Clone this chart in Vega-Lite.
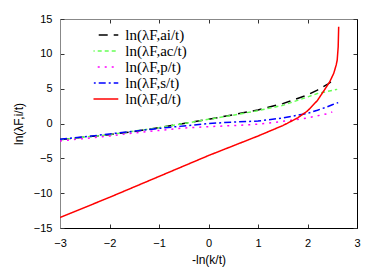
{
  "$schema": "https://vega.github.io/schema/vega-lite/v6.json",
  "width": 297,
  "height": 209,
  "autosize": {"type": "none"},
  "padding": {"left": 60, "top": 19, "right": 25, "bottom": 40},
  "background": "white",
  "config": {
    "view": {"stroke": null},
    "axis": {"labelFont": "Liberation Sans", "titleFont": "Liberation Sans", "labelFontSize": 11, "titleFontSize": 12, "titleFontWeight": "normal", "labelColor": "black", "titleColor": "black", "grid": false, "tickColor": "#333", "domainColor": "black", "labelFlush": false}
  },
  "data": {"values": [
    {"s":"ai","x":-3,"y":-2.3},{"s":"ai","x":-2.5,"y":-1.95},{"s":"ai","x":-2,"y":-1.6},{"s":"ai","x":-1.5,"y":-1.15},{"s":"ai","x":-1,"y":-0.6},{"s":"ai","x":-0.5,"y":0.0},{"s":"ai","x":0,"y":0.6},{"s":"ai","x":0.5,"y":1.25},{"s":"ai","x":1,"y":1.95},{"s":"ai","x":1.5,"y":2.85},{"s":"ai","x":2,"y":4.1},{"s":"ai","x":2.2,"y":4.8},{"s":"ai","x":2.4,"y":5.6},{"s":"ai","x":2.55,"y":6.4},
    {"s":"ac","x":-3,"y":-2.35},{"s":"ac","x":-2.5,"y":-1.95},{"s":"ac","x":-2,"y":-1.6},{"s":"ac","x":-1.5,"y":-1.1},{"s":"ac","x":-1,"y":-0.6},{"s":"ac","x":-0.5,"y":0.0},{"s":"ac","x":0,"y":0.6},{"s":"ac","x":0.5,"y":1.2},{"s":"ac","x":1,"y":1.85},{"s":"ac","x":1.5,"y":2.6},{"s":"ac","x":2,"y":3.8},{"s":"ac","x":2.2,"y":4.3},{"s":"ac","x":2.4,"y":4.6},{"s":"ac","x":2.6,"y":4.9},
    {"s":"p","x":-3,"y":-2.5},{"s":"p","x":-2.5,"y":-2.15},{"s":"p","x":-2,"y":-1.8},{"s":"p","x":-1.5,"y":-1.35},{"s":"p","x":-1,"y":-1.0},{"s":"p","x":-0.5,"y":-0.65},{"s":"p","x":0,"y":-0.45},{"s":"p","x":0.5,"y":-0.3},{"s":"p","x":1,"y":-0.1},{"s":"p","x":1.5,"y":0.3},{"s":"p","x":2,"y":0.8},{"s":"p","x":2.2,"y":1.1},{"s":"p","x":2.4,"y":1.4},{"s":"p","x":2.5,"y":1.65},
    {"s":"s","x":-3,"y":-2.25},{"s":"s","x":-2.5,"y":-1.9},{"s":"s","x":-2,"y":-1.5},{"s":"s","x":-1.5,"y":-1.1},{"s":"s","x":-1,"y":-0.7},{"s":"s","x":-0.5,"y":-0.35},{"s":"s","x":0,"y":0.0},{"s":"s","x":0.5,"y":0.2},{"s":"s","x":1,"y":0.35},{"s":"s","x":1.5,"y":0.8},{"s":"s","x":2,"y":1.45},{"s":"s","x":2.2,"y":1.9},{"s":"s","x":2.4,"y":2.4},{"s":"s","x":2.5,"y":2.7},{"s":"s","x":2.62,"y":3.0},
    {"s":"d","x":-3,"y":-13.5},{"s":"d","x":-2,"y":-10.6},{"s":"d","x":-1,"y":-7.6},{"s":"d","x":0,"y":-4.6},{"s":"d","x":0.5,"y":-3.2},{"s":"d","x":1,"y":-1.8},{"s":"d","x":1.5,"y":-0.3},{"s":"d","x":1.8,"y":0.8},{"s":"d","x":2,"y":1.8},{"s":"d","x":2.2,"y":3.3},{"s":"d","x":2.35,"y":4.9},{"s":"d","x":2.45,"y":6.0},{"s":"d","x":2.53,"y":7.2},{"s":"d","x":2.58,"y":8.4},{"s":"d","x":2.6,"y":9.1},{"s":"d","x":2.62,"y":11.0},{"s":"d","x":2.63,"y":13.9}
  ]},
  "resolve": {"axis": {"x": "independent", "y": "independent"}},
  "layer": [
    {
      "mark": {"type": "line", "strokeWidth": 1.5, "clip": true},
      "encoding": {
        "x": {"field": "x", "type": "quantitative", "scale": {"domain": [-3, 3], "nice": false}, "axis": {"title": "-ln(k/t)", "values": [-3,-2,-1,0,1,2,3], "tickSize": -4, "labelPadding": 13, "titlePadding": 6}},
        "y": {"field": "y", "type": "quantitative", "scale": {"domain": [-15, 15], "nice": false}, "axis": {"title": "ln(λF,i/t)", "values": [-15,-10,-5,0,5,10,15], "tickSize": -4, "labelPadding": 12, "titlePadding": 8, "domainColor": "#888"}},
        "color": {"field": "s", "type": "nominal", "sort": ["ai","ac","p","s","d"], "scale": {"domain": ["ai","ac","p","s","d"], "range": ["#000000","#66ff55","#ff00ff","#0000ff","#ff0000"]},
          "legend": {"title": null, "orient": "none", "legendX": 33.5, "legendY": 9.5, "symbolType": "M-2.66,0H2.66", "symbolSize": 169, "symbolStrokeWidth": 1.5, "labelFont": "Liberation Serif", "labelFontSize": 15, "labelColor": "black", "labelOffset": 16.8, "rowPadding": 0, "clipHeight": 13.1, "padding": 0,
            "labelExpr": "datum.value == 'ai' ? 'ln(λF,ai/t)' : datum.value == 'ac' ? 'ln(λF,ac/t)' : datum.value == 'p' ? 'ln(λF,p/t)' : datum.value == 's' ? 'ln(λF,s/t)' : 'ln(λF,d/t)'"}},
        "strokeDash": {"field": "s", "type": "nominal", "sort": ["ai","ac","p","s","d"], "scale": {"domain": ["ai","ac","p","s","d"], "range": [[9,6],[4,3],[2,5],[7,3,2,3],[1,0]]}, "legend": null}
      }
    },
    {
      "mark": {"type": "rule", "opacity": 0},
      "encoding": {
        "x": {"datum": 0, "type": "quantitative", "axis": {"orient": "top", "title": null, "labels": false, "values": [-3,-2,-1,0,1,2,3], "tickSize": -4, "domainColor": "#888"}},
        "y": {"datum": 0, "type": "quantitative", "axis": {"orient": "right", "title": null, "labels": false, "values": [-15,-10,-5,0,5,10,15], "tickSize": -4}}
      }
    }
  ]
}
